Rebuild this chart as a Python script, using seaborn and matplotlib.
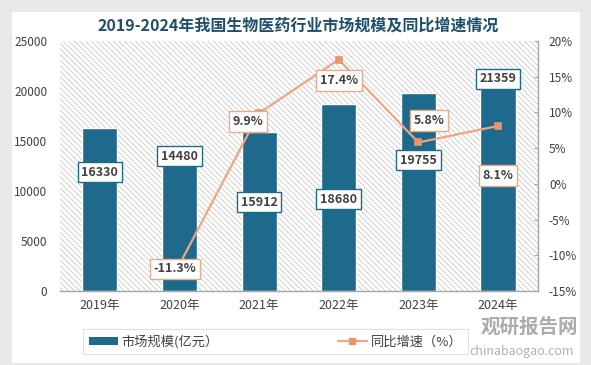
import numpy as np
import pandas as pd
import matplotlib
matplotlib.use('Agg')
import matplotlib.pyplot as plt
from matplotlib.patches import Rectangle, Patch
from matplotlib.lines import Line2D
import seaborn as sns

# data
years = ['2019年', '2020年', '2021年', '2022年', '2023年', '2024年']
market_size = [16330, 14480, 15912, 18680, 19755, 21359]   # 亿元
growth = [np.nan, -11.3, 9.9, 17.4, 5.8, 8.1]                # %

# where the value boxes sit (data units), as in the reference
bar_label_y = [11900, 13500, 8900, 9200, 13100, 21200]
line_label_pos = [None, (-0.06, -11.9), (-0.14, 8.7), (0.0, 14.5), (0.13, 8.9), (0.0, 1.2)]

BAR_COLOR = '#1E6A8D'
LINE_COLOR = '#F0A584'
MARKER_COLOR = '#E8946C'
TEXT_COLOR = '#404040'

sns.set_style('white')
plt.rcParams['font.family'] = ['Noto Sans CJK SC', 'DejaVu Sans']
plt.rcParams['hatch.color'] = '#C9C9C9'
plt.rcParams['hatch.linewidth'] = 0.6

fig = plt.figure(figsize=(5.91, 3.65), dpi=100, facecolor='#E9E9E9')
# white card
fig.patches.append(Rectangle((0.020, 0.005), 0.961, 0.962, transform=fig.transFigure,
                             facecolor='white', edgecolor='none', zorder=-10))
ax = fig.add_axes([0.1015, 0.2027, 0.8085, 0.685])
ax.set_facecolor('none')
# hatched plot area
ax.add_patch(Rectangle((0, 0), 1, 1, transform=ax.transAxes, facecolor='white',
                       edgecolor='#C9C9C9', linewidth=0, hatch='\\\\\\\\\\\\', zorder=0))

df = pd.DataFrame({'year': years, 'size': market_size})
sns.barplot(data=df, x='year', y='size', color=BAR_COLOR, width=0.44, ax=ax,
            edgecolor='white', linewidth=1, saturation=1, zorder=2)

ax2 = ax.twinx()
gdf = pd.DataFrame({'year': years, 'growth': growth})
sns.pointplot(data=gdf, x='year', y='growth', ax=ax2, color=LINE_COLOR, markers='s',
              markersize=5, linewidth=1.6, errorbar=None)
for ln in ax2.lines:
    ln.set_markerfacecolor(MARKER_COLOR)
    ln.set_markeredgecolor(MARKER_COLOR)

ax.set_xlim(-0.5, 5.5)
ax2.set_xlim(-0.5, 5.5)
ax.set_ylim(0, 25000)
ax.set_yticks(range(0, 25001, 5000))
ax2.set_ylim(-15, 20)
ax2.set_yticks(range(-15, 21, 5))
ax2.set_yticklabels([f'{v}%' for v in range(-15, 21, 5)])
ax.set_xticks(range(len(years)))
ax.set_xticklabels(years)
ax.set_xlabel('')
ax.set_ylabel('')
ax2.set_xlabel('')
ax2.set_ylabel('')

for a in (ax, ax2):
    for s in a.spines.values():
        s.set_visible(False)
ax.spines['bottom'].set_visible(True)
ax.spines['bottom'].set_color('#A6A6A6')
ax.spines['bottom'].set_linewidth(1)
ax2.spines['right'].set_visible(True)
ax2.spines['right'].set_color('#A6A6A6')
ax2.spines['right'].set_linewidth(1)

ax.tick_params(axis='y', length=0, pad=9, labelsize=8.5, labelcolor=TEXT_COLOR)
ax.tick_params(axis='x', length=0, pad=6, labelsize=9, labelcolor=TEXT_COLOR)
ax2.tick_params(axis='y', direction='in', length=3, color='#A6A6A6', pad=8,
                labelsize=8.5, labelcolor=TEXT_COLOR)
ax2.tick_params(axis='x', length=0, labelbottom=False)

# value boxes
for i, (v, ly) in enumerate(zip(market_size, bar_label_y)):
    ax.text(i, ly, f'{v}', ha='center', va='center', fontsize=9, fontweight='bold',
            color=TEXT_COLOR, zorder=5,
            bbox=dict(boxstyle='square,pad=0.3', facecolor='white', edgecolor=BAR_COLOR, linewidth=1))
for i, g in enumerate(growth):
    if np.isnan(g):
        continue
    dx, ly = line_label_pos[i]
    ax2.text(i + dx, ly, f'{g}%', ha='center', va='center', fontsize=9, fontweight='bold',
             color=TEXT_COLOR, zorder=5,
             bbox=dict(boxstyle='square,pad=0.3', facecolor='white', edgecolor='#EBAA8C', linewidth=1))

fig.text(0.505, 0.93, '2019-2024年我国生物医药行业市场规模及同比增速情况', ha='center', va='center',
         fontsize=11.5, fontweight='bold', color='#1F4E6B')

handles = [Patch(facecolor=BAR_COLOR, edgecolor='none'),
           Line2D([0], [0], color=LINE_COLOR, lw=1.6, marker='s', markersize=5,
                  markerfacecolor=MARKER_COLOR, markeredgecolor=MARKER_COLOR)]
leg = fig.legend(handles, ['市场规模(亿元）', '同比增速（%）'], loc='center',
                 bbox_to_anchor=(0.466, 0.064), ncol=2, frameon=True, fancybox=False,
                 edgecolor='#D9D9D9', fontsize=9.5, columnspacing=9, handlelength=2.2,
                 handleheight=0.5, borderpad=0.45, handletextpad=0.3)
for t in leg.get_texts():
    t.set_color(TEXT_COLOR)
leg.get_frame().set_linewidth(0.8)

# watermark
fig.text(0.895, 0.103, '观研报告网', ha='center', va='center', fontsize=14, fontweight='bold',
         color='#9C9C9C', alpha=0.85)
fig.text(0.883, 0.037, 'chinabaogao.com', ha='center', va='center', fontsize=9,
         color='#A8A8A8', alpha=0.9)

fig.savefig('out.png', dpi=100, facecolor=fig.get_facecolor())
